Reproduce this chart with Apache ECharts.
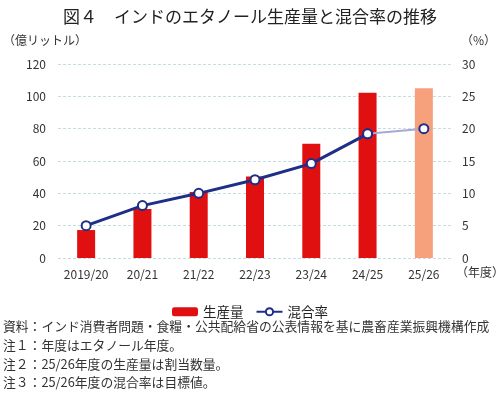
<!DOCTYPE html>
<html><head><meta charset="utf-8">
<script src="https://cdn.jsdelivr.net/npm/echarts@6/dist/echarts.min.js"></script>
<style>html,body{margin:0;padding:0;background:#fff}#c{width:500px;height:395px}</style>
</head><body><div id="c"></div>
<script>
const categories = ['2019/20','20/21','21/22','22/23','23/24','24/25','25/26'];
const production = [17.3, 30.3, 40.8, 50.4, 70.6, 102.2, 105];
const blendRate = [5.0, 8.1, 10.0, 12.1, 14.6, 19.2, 20.0];
const leftTicks = [0, 20, 40, 60, 80, 100, 120];
const rightTicks = [0, 5, 10, 15, 20, 25, 30];
const notes = [
  '資料：インド消費者問題・食糧・公共配給省の公表情報を基に農畜産業振興機構作成',
  '注１：年度はエタノール年度。',
  '注２：25/26年度の生産量は割当数量。',
  '注３：25/26年度の混合率は目標値。'
];
const FONT = '"Noto Sans CJK JP", "Noto Sans", sans-serif';
const navy = '#1f2e86';
const n = categories.length;
const mainLine = blendRate.map((v, i) => i < n - 1 ? v : '-');
const targetLine = blendRate.map((v, i) => i >= n - 2 ? v : '-');
const barData = production.map((v, i) => i === n - 1 ? {value: v, itemStyle: {color: '#f7a07c'}} : v);

const chart = echarts.init(document.getElementById('c'));
chart.setOption({
  animation: false,
  textStyle: {fontFamily: FONT},
  title: {
    text: '図４　インドのエタノール生産量と混合率の推移',
    left: 'center', top: 3,
    textStyle: {fontFamily: FONT, fontSize: 17, fontWeight: 'normal', color: '#222'}
  },
  grid: {left: 58, right: 48, top: 64, bottom: 137},
  legend: {
    data: ['生産量', '混合率'],
    top: 300, left: 'center', itemGap: 12, itemWidth: 26, itemHeight: 9,
    textStyle: {fontFamily: FONT, fontSize: 13.5, color: '#222'}
  },
  graphic: [
    {type: 'text', left: 3, top: 34, style: {text: '（億リットル）', font: '12px ' + FONT, fill: '#333'}},
    {type: 'text', right: 4, top: 34, style: {text: '（%）', font: '12px ' + FONT, fill: '#333'}},
    {type: 'text', left: 456, top: 266, style: {text: '（年度）', font: '12px ' + FONT, fill: '#333'}},
  ].concat(notes.map((t, i) => ({
    type: 'text', left: 3, top: 320 + i * 18.7,
    style: {text: t, font: '12.8px ' + FONT, fill: '#333'}
  }))),
  xAxis: {
    type: 'category', data: categories,
    axisLine: {show: false}, axisTick: {show: false},
    axisLabel: {fontSize: 12, color: '#333', margin: 10, fontFamily: FONT, interval: 0}
  },
  yAxis: [
    {type: 'value', min: leftTicks[0], max: leftTicks[leftTicks.length - 1], interval: 20,
     axisLabel: {fontSize: 12, color: '#333', margin: 12, fontFamily: FONT},
     splitLine: {lineStyle: {color: '#c8dce4', type: [3, 2]}}},
    {type: 'value', min: rightTicks[0], max: rightTicks[rightTicks.length - 1], interval: 5,
     axisLabel: {fontSize: 12, color: '#333', margin: 10, fontFamily: FONT},
     splitLine: {show: false}}
  ],
  series: [
    {name: '生産量', type: 'bar', data: barData, barWidth: 18,
     itemStyle: {color: '#e01010'}, z: 2},
    {name: '混合率_target', type: 'line', yAxisIndex: 1, data: targetLine,
     symbol: 'circle', symbolSize: 9, showSymbol: true,
     lineStyle: {color: '#a8a8d4', width: 2},
     itemStyle: {color: '#fff', borderColor: navy, borderWidth: 2}, z: 3},
    {name: '混合率', type: 'line', yAxisIndex: 1, data: mainLine,
     symbol: 'circle', symbolSize: 9,
     lineStyle: {color: navy, width: 3},
     itemStyle: {color: '#fff', borderColor: navy, borderWidth: 2}, z: 4}
  ]
});
</script></body></html>
